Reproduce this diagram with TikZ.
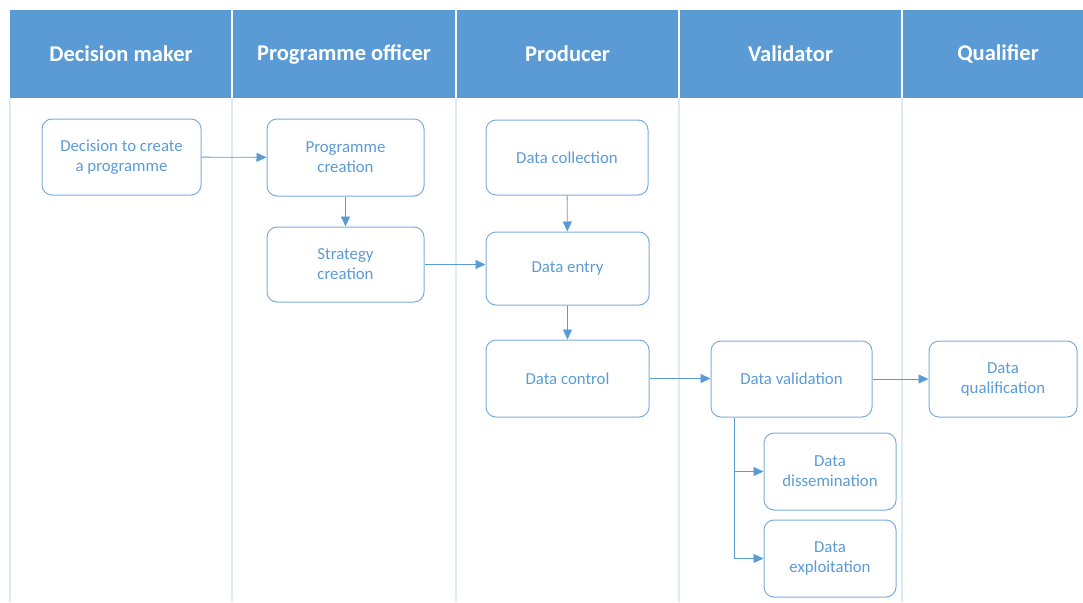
\documentclass[tikz,border=0pt]{standalone}
\usepackage{fontspec}
\setmainfont{Carlito}
\usetikzlibrary{arrows.meta, positioning}
\definecolor{laneblue}{HTML}{5B9BD5}
\definecolor{boxline}{HTML}{7AADDD}
\definecolor{laneline}{HTML}{DDEBF7}

\begin{document}
\begin{tikzpicture}[
        x=1pt, y=-1pt,
        lanehead/.style={text=white, font=\bfseries\fontsize{22.5}{26}\selectfont},
        task/.style={draw=boxline, line width=1pt, rounded corners=10pt, align=center,
          text=laneblue, font=\fontsize{16.8}{20}\selectfont, inner sep=0pt},
        flow/.style={draw=laneblue, line width=0.9pt, -{Triangle[length=10pt,width=9pt]}}
      ]
      \useasboundingbox (0,0) rectangle (1083,602);
      % swimlane header and separators
      \fill[laneblue] (10,10) rectangle (1083,98);
      \foreach \x in {232,456,679,902} {
        \draw[white, line width=1.2pt] (\x,10) -- (\x,98);
      }
      \foreach \x in {10,232,456,679,902} {
        \draw[laneline, line width=1.2pt] (\x,98) -- (\x,602);
      }
      \node[lanehead] (hdecision) at (121,54) {Decision maker};
      \node[lanehead] (hofficer) at (344,54) {Programme officer};
      \node[lanehead] (hproducer) at (567.5,54) {Producer};
      \node[lanehead] (hvalidator) at (790.5,54) {Validator};
      \node[lanehead] (hqualifier) at (998,54) {Qualifier};
      % tasks
      \node[task, minimum width=159pt, minimum height=76pt] (decide) at (121.5,157) {Decision to create\\a programme};
      \node[task, minimum width=157pt, minimum height=77pt] (progcreate) at (345.5,157.5) {Programme\\creation};
      \node[task, minimum width=157pt, minimum height=75pt] (stratcreate) at (345.5,264.5) {Strategy\\creation};
      \node[task, minimum width=162pt, minimum height=75pt] (collect) at (567,157.5) {Data collection};
      \node[task, minimum width=163pt, minimum height=73pt] (entry) at (567.5,268.5) {Data entry};
      \node[task, minimum width=163pt, minimum height=77pt] (control) at (567.5,378.5) {Data control};
      \node[task, minimum width=161pt, minimum height=76pt] (valid) at (791.5,379) {Data validation};
      \node[task, minimum width=132pt, minimum height=77pt] (dissem) at (830,471.5) {Data\\dissemination};
      \node[task, minimum width=132pt, minimum height=77pt] (exploit) at (830,558.5) {Data\\exploitation};
      \node[task, minimum width=148pt, minimum height=76pt] (qualify) at (1003,379) {Data\\qualification};
      % connectors
      \draw[flow] (decide) -- (progcreate);
      \draw[flow] (progcreate) -- (stratcreate);
      \draw[flow] (stratcreate.east) -- (stratcreate.east -| entry.west);
      \draw[flow] (collect) -- (entry);
      \draw[flow] (entry) -- (control);
      \draw[flow] (control.east) -- (control.east -| valid.west);
      \draw[flow] (valid) -- (qualify);
      \draw[flow] ([xshift=24pt]valid.south west) |- (dissem.west);
      \draw[flow] ([xshift=24pt]valid.south west) |- (exploit.west);
\end{tikzpicture}
\end{document}
